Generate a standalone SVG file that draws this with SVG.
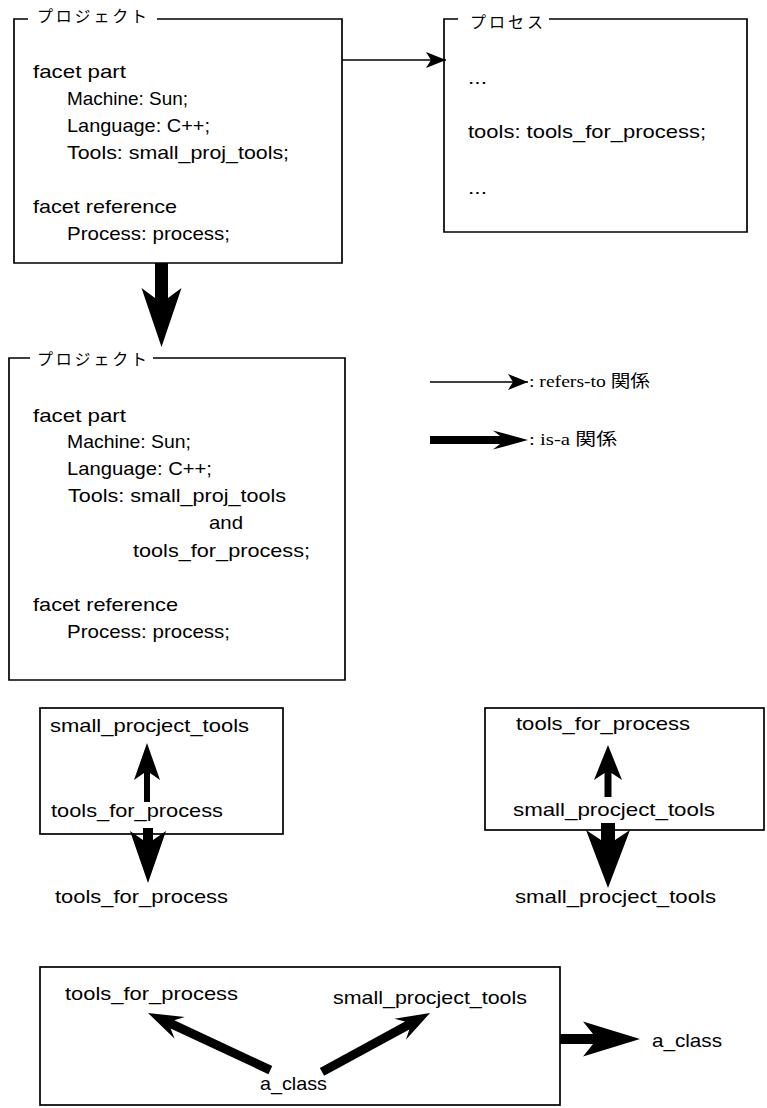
<svg xmlns="http://www.w3.org/2000/svg" width="767" height="1108" viewBox="0 0 767 1108">
<style>
.bg{fill:#ffffff}
.box{fill:none;stroke:#000;stroke-width:1.7}
.t{font-family:"Liberation Sans",Arial,sans-serif;font-size:19px;fill:#000}
.jp{font-family:"Noto Sans CJK JP","Noto Sans CJK SC",sans-serif;font-size:16px;fill:#000}
.lg{font-family:"Liberation Serif","Noto Sans CJK JP",serif;font-size:17px;fill:#000}
.isa{fill:#000;stroke:none}
.ref{fill:none;stroke:#000;stroke-width:1.6}
</style>
<defs>
<marker id="refHead" markerUnits="userSpaceOnUse" markerWidth="22" markerHeight="18" viewBox="-21 -9 22 18" refX="0" refY="0" orient="auto">
<path d="M0,0 L-20,-8 L-15,0 L-20,8 Z" fill="#000"/>
</marker>
</defs>
<rect class="bg" x="0" y="0" width="767" height="1108"/>

<g id="project1">
<path class="box" d="M28,19 L14,19 L14,263 L342,263 L342,19 L157,19"/>
<text class="jp" x="37" y="22" textLength="110">プロジェクト</text>
<text class="t" x="33" y="78" textLength="93" lengthAdjust="spacingAndGlyphs">facet part</text>
<text class="t" x="67" y="105" textLength="121" lengthAdjust="spacingAndGlyphs">Machine: Sun;</text>
<text class="t" x="67" y="132" textLength="143" lengthAdjust="spacingAndGlyphs">Language: C++;</text>
<text class="t" x="67" y="159" textLength="222" lengthAdjust="spacingAndGlyphs">Tools: small_proj_tools;</text>
<text class="t" x="33" y="213" textLength="144" lengthAdjust="spacingAndGlyphs">facet reference</text>
<text class="t" x="67" y="240" textLength="163" lengthAdjust="spacingAndGlyphs">Process: process;</text>
</g>

<g id="process">
<path class="box" d="M458,19 L444,19 L444,232 L747,232 L747,19 L549,19"/>
<text class="jp" x="470" y="28" textLength="73">プロセス</text>
<text class="t" x="468" y="84" textLength="19" lengthAdjust="spacingAndGlyphs">...</text>
<text class="t" x="468" y="138" textLength="238" lengthAdjust="spacingAndGlyphs">tools: tools_for_process;</text>
<text class="t" x="468" y="194" textLength="19" lengthAdjust="spacingAndGlyphs">...</text>
</g>

<g id="project2">
<path class="box" d="M30,358 L9,358 L9,680 L345,680 L345,358 L153,358"/>
<text class="jp" x="37" y="365" textLength="110">プロジェクト</text>
<text class="t" x="33" y="422" textLength="93" lengthAdjust="spacingAndGlyphs">facet part</text>
<text class="t" x="67" y="448" textLength="124" lengthAdjust="spacingAndGlyphs">Machine: Sun;</text>
<text class="t" x="67" y="475" textLength="145" lengthAdjust="spacingAndGlyphs">Language: C++;</text>
<text class="t" x="68" y="502" textLength="218" lengthAdjust="spacingAndGlyphs">Tools: small_proj_tools</text>
<text class="t" x="209" y="529" textLength="34" lengthAdjust="spacingAndGlyphs">and</text>
<text class="t" x="133" y="557" textLength="177" lengthAdjust="spacingAndGlyphs">tools_for_process;</text>
<text class="t" x="33" y="611" textLength="145" lengthAdjust="spacingAndGlyphs">facet reference</text>
<text class="t" x="67" y="638" textLength="163" lengthAdjust="spacingAndGlyphs">Process: process;</text>
</g>

<g id="legend">
<text class="lg" x="529" y="387" textLength="121" lengthAdjust="spacingAndGlyphs">: refers-to 関係</text>
<text class="lg" x="529" y="445" textLength="88" lengthAdjust="spacingAndGlyphs">: is-a 関係</text>
</g>

<g id="example1">
<rect class="box" x="40" y="708" width="243" height="126"/>
<text class="t" x="50" y="732" textLength="199" lengthAdjust="spacingAndGlyphs">small_procject_tools</text>
<text class="t" x="51" y="817" textLength="172" lengthAdjust="spacingAndGlyphs">tools_for_process</text>
</g>
<g id="example1-result">
<text class="t" x="55" y="903" textLength="173" lengthAdjust="spacingAndGlyphs">tools_for_process</text>
</g>

<g id="example2">
<rect class="box" x="485" y="708" width="279" height="122"/>
<text class="t" x="516" y="730" textLength="174" lengthAdjust="spacingAndGlyphs">tools_for_process</text>
<text class="t" x="513" y="816" textLength="202" lengthAdjust="spacingAndGlyphs">small_procject_tools</text>
</g>
<g id="example2-result">
<text class="t" x="515" y="903" textLength="201" lengthAdjust="spacingAndGlyphs">small_procject_tools</text>
</g>

<g id="example3">
<rect class="box" x="40" y="967" width="520" height="138"/>
<text class="t" x="65" y="1000" textLength="173" lengthAdjust="spacingAndGlyphs">tools_for_process</text>
<text class="t" x="333" y="1004" textLength="194" lengthAdjust="spacingAndGlyphs">small_procject_tools</text>
<text class="t" x="260" y="1090" textLength="67" lengthAdjust="spacingAndGlyphs">a_class</text>
</g>
<g id="example3-result">
<text class="t" x="652" y="1047" textLength="70" lengthAdjust="spacingAndGlyphs">a_class</text>
</g>

<g id="connectors">
<line class="ref" x1="342" y1="60" x2="446" y2="60" marker-end="url(#refHead)"/>
<path class="isa" d="M161.5,347 L141.5,288 L155,298 L155,263 L168,263 L168,298 L181.5,288 Z"/>
<line class="ref" x1="430" y1="382" x2="528" y2="382" marker-end="url(#refHead)"/>
<path class="isa" d="M528,440 L493,430.5 L500,436 L430,436 L430,444 L500,444 L493,449.5 Z"/>
<path class="isa" d="M147,743 L134,780 L144,773 L144,802 L150,802 L150,773 L160,780 Z"/>
<path class="isa" d="M148,883 L130,831 L143,840 L143,828 L153,828 L153,840 L166,831 Z"/>
<path class="isa" d="M608,745 L594,780 L604.5,773 L604.5,797 L611.5,797 L611.5,773 L622,780 Z"/>
<path class="isa" d="M608,888 L586,830 L601,840 L601,823 L615,823 L615,840 L630,830 Z"/>
<path class="isa" transform="translate(148,1013) rotate(205)" d="M0,0 L-35,-12 L-27,-4.5 L-135,-4.5 L-135,4.5 L-27,4.5 L-35,12 Z"/>
<path class="isa" transform="translate(430,1013) rotate(-28.6)" d="M0,0 L-34,-12 L-26,-4.5 L-123,-4.5 L-123,4.5 L-26,4.5 L-34,12 Z"/>
<path class="isa" d="M640,1039 L583,1021.5 L593,1034 L560,1034 L560,1044 L593,1044 L583,1056.5 Z"/>
</g>
</svg>
